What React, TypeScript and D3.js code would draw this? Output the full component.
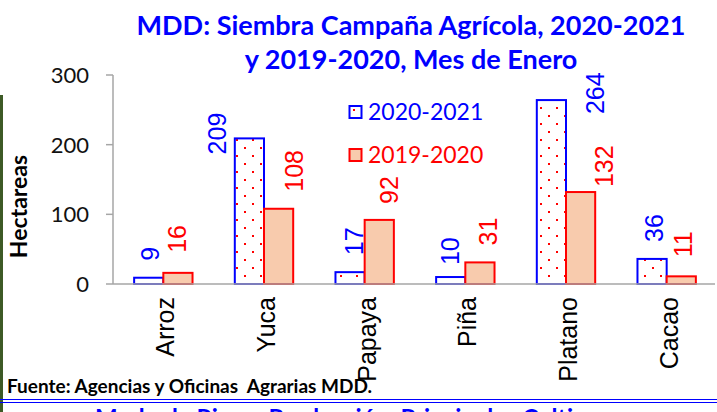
import React, { useEffect, useRef } from 'react';
import * as d3 from 'd3';

const cultivos = ['Arroz', 'Yuca', 'Papaya', 'Piña', 'Platano', 'Cacao'];
const campana2021 = [9, 209, 17, 10, 264, 36];
const campana2020 = [16, 108, 92, 31, 132, 11];
const seriesNames = ['2020-2021', '2019-2020'];
const yTicks = [0, 100, 200, 300];

// the labels were dragged around by hand in the original, so they get nudged
const labelDx2021 = [1, -32, 4, -1, 44, 2];
const labelGap2021 = [17, -16, 17, 12, -14, 17];
const labelDx2020 = [-1, 15, 10, 8, 23, 2];
const labelGap2020 = [20, 17, 16, 17, 5, 19];

const W = 717;
const H = 412;

const App = () => {
  const svgRef = useRef<SVGSVGElement>(null);

  useEffect(() => {
    const svg = d3.select(svgRef.current);
    svg.selectAll('*').remove();

    const azul = '#0000ff';
    const rojo = '#ff0000';
    const durazno = '#f8cbad';
    const gris = '#a6a6a6';

    const x0 = d3.scaleBand().domain(cultivos).range([113, 717]).padding(0);
    const bw = x0.bandwidth();
    const x1 = d3.scaleBand().domain(seriesNames).range([bw * 0.21, bw * 0.79]).padding(0);
    const y = d3.scaleLinear().domain([0, 300]).range([284, 75]);

    // patron de puntos
    const defs = svg.append('defs');
    const pat = defs.append('pattern')
      .attr('id', 'puntos')
      .attr('patternUnits', 'userSpaceOnUse')
      .attr('width', 16)
      .attr('height', 16);
    pat.append('rect').attr('width', 16).attr('height', 16).attr('fill', 'white');
    pat.append('rect').attr('x', 4).attr('y', 3).attr('width', 2).attr('height', 2).attr('fill', rojo);
    pat.append('rect').attr('x', 12).attr('y', 11).attr('width', 2).attr('height', 2).attr('fill', rojo);

    svg.append('rect').attr('width', W).attr('height', H).attr('fill', 'white');

    // borde verde de la izquierda
    svg.append('rect')
      .attr('x', 0).attr('y', 95).attr('width', 3).attr('height', H - 95)
      .attr('fill', '#3d5a26');

    // titulo
    const title = svg.append('text')
      .attr('text-anchor', 'middle')
      .attr('font-family', 'Lato, sans-serif')
      .attr('font-weight', 'bold')
      .attr('font-size', 27)
      .attr('fill', azul);
    title.append('tspan').attr('x', 411).attr('y', 35).text('MDD: Siembra Campaña Agrícola, 2020-2021');
    title.append('tspan').attr('x', 411).attr('y', 69).text('y 2019-2020, Mes de Enero');

    // eje y
    svg.append('line')
      .attr('x1', 113).attr('x2', 113)
      .attr('y1', y(300)).attr('y2', y(0))
      .attr('stroke', gris).attr('stroke-width', 1.5);
    svg.selectAll('.ytick')
      .data(yTicks)
      .enter()
      .append('line')
      .attr('x1', 106).attr('x2', 113)
      .attr('y1', d => y(d)).attr('y2', d => y(d))
      .attr('stroke', gris).attr('stroke-width', 1.5);
    svg.selectAll('.ylab')
      .data(yTicks)
      .enter()
      .append('text')
      .attr('x', 89)
      .attr('y', d => y(d))
      .attr('dy', '0.36em')
      .attr('text-anchor', 'end')
      .attr('font-family', 'Lato, sans-serif')
      .attr('font-size', 22)
      .attr('fill', '#111')
      .text(d => d);

    svg.append('text')
      .attr('transform', `translate(27,${(y(0) + y(300)) / 2 + 27}) rotate(-90)`)
      .attr('text-anchor', 'middle')
      .attr('font-family', 'Lato, sans-serif')
      .attr('font-weight', 'bold')
      .attr('font-size', 23)
      .attr('fill', '#000')
      .text('Hectareas');

    // barras
    const g = svg.append('g');
    const bx = x1.bandwidth();

    g.selectAll('.b2021')
      .data(campana2021)
      .enter()
      .append('rect')
      .attr('x', (d, i) => x0(cultivos[i])! + x1('2020-2021')!)
      .attr('y', d => y(d))
      .attr('width', bx)
      .attr('height', d => y(0) - y(d))
      .attr('fill', 'url(#puntos)')
      .attr('stroke', azul)
      .attr('stroke-width', 2);

    g.selectAll('.b2020')
      .data(campana2020)
      .enter()
      .append('rect')
      .attr('x', (d, i) => x0(cultivos[i])! + x1('2019-2020')!)
      .attr('y', d => y(d))
      .attr('width', bx)
      .attr('height', d => y(0) - y(d))
      .attr('fill', durazno)
      .attr('stroke', rojo)
      .attr('stroke-width', 2);

    // eje x
    svg.append('line')
      .attr('x1', 113).attr('x2', 715)
      .attr('y1', y(0)).attr('y2', y(0))
      .attr('stroke', gris).attr('stroke-width', 1.5);

    // etiquetas de datos
    const etiquetas = (vals, serie, dxs, gaps, color) => {
      svg.selectAll('.lab' + serie)
        .data(vals)
        .enter()
        .append('text')
        .attr('transform', (d, i) => {
          const cx = x0(cultivos[i])! + x1(serie)! + bx / 2 + dxs[i];
          return `translate(${cx + 9},${y(d) - gaps[i]}) rotate(-90)`;
        })
        .attr('font-family', '"Liberation Sans", Arial, sans-serif')
        .attr('font-size', 25)
        .attr('fill', color)
        .text(d => d);
    };
    etiquetas(campana2021, '2020-2021', labelDx2021, labelGap2021, azul);
    etiquetas(campana2020, '2019-2020', labelDx2020, labelGap2020, rojo);

    // categorias
    svg.selectAll('.cat')
      .data(cultivos)
      .enter()
      .append('text')
      .attr('transform', d => `translate(${x0(d)! + bw / 2 + 11},297) rotate(-90)`)
      .attr('text-anchor', 'end')
      .attr('font-family', '"Liberation Sans", Arial, sans-serif')
      .attr('font-size', 25)
      .attr('fill', '#000')
      .text(d => d);

    // leyenda
    const ley = svg.append('g').attr('transform', 'translate(349,106)');
    ley.append('rect')
      .attr('x', 0.5).attr('y', 0).attr('width', 12).attr('height', 12)
      .attr('fill', 'url(#puntos)').attr('stroke', azul).attr('stroke-width', 2);
    ley.append('rect')
      .attr('x', 0.5).attr('y', 43).attr('width', 12).attr('height', 12)
      .attr('fill', durazno).attr('stroke', rojo).attr('stroke-width', 2);
    ley.selectAll('.ltxt')
      .data(seriesNames)
      .enter()
      .append('text')
      .attr('x', 19)
      .attr('y', (d, i) => 6 + i * 43)
      .attr('dy', '0.36em')
      .attr('font-family', 'Lato, sans-serif')
      .attr('font-size', 23)
      .attr('fill', (d, i) => (i === 0 ? azul : rojo))
      .text(d => d);

    // fuente
    svg.append('text')
      .attr('x', 7).attr('y', 393)
      .attr('font-family', 'Lato, sans-serif')
      .attr('font-weight', 'bold')
      .attr('font-size', 19)
      .attr('fill', '#000')
      .style('white-space', 'pre')
      .text('Fuente: Agencias y Oficinas  Agrarias MDD.');

    svg.append('line')
      .attr('x1', 0).attr('x2', W).attr('y1', 399.5).attr('y2', 399.5)
      .attr('stroke', azul).attr('stroke-width', 1);
    svg.append('line')
      .attr('x1', 0).attr('x2', W).attr('y1', 402.5).attr('y2', 402.5)
      .attr('stroke', azul).attr('stroke-width', 1);

    // texto de la siguiente diapositiva, solo asoma arriba
    svg.append('text')
      .attr('x', 95).attr('y', 427)
      .attr('font-family', 'Lato, sans-serif')
      .attr('font-weight', 'bold')
      .attr('font-size', 24)
      .attr('fill', azul)
      .text('Modo de Riego, Producción, Principales Cultivos');
  }, []);

  return (
    <svg
      ref={svgRef}
      width={W}
      height={H}
      style={{ position: 'absolute', left: 0, top: 0 }}
    ></svg>
  );
};

export default App;
